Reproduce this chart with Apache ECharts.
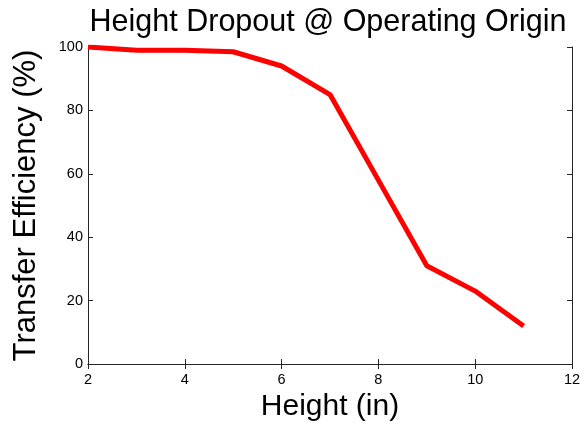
<!DOCTYPE html>
<html>
<head>
<meta charset="utf-8">
<script src="https://cdn.jsdelivr.net/npm/echarts@6/dist/echarts.min.js"></script>
<style>
  html, body { margin: 0; padding: 0; background: #fff; }
  #chart { width: 583px; height: 423px; }
</style>
</head>
<body>
<div id="chart"></div>
<script>
// heights (in) and transfer efficiency (%)
var heights = [2, 3, 4, 5, 6, 7, 8, 9, 10, 11]
var efficiency = [100, 99, 99, 98.5, 94, 85, 58, 31, 23, 12]
var xTicks = [2, 4, 6, 8, 10, 12]
var yTicks = [0, 20, 40, 60, 80, 100]

var font = 'Liberation Sans, Arial, sans-serif'
var axisColor = '#262626'

var chart = echarts.init(document.getElementById('chart'))

var points = heights.map(function (h, i) {
  return [h, efficiency[i]]
})

// shared look for the box axes (ticks pointing inward)
function boxAxis(extra) {
  return Object.assign({
    type: 'value',
    axisLine: { show: true, lineStyle: { color: axisColor, width: 1 } },
    axisTick: { show: true, inside: true, length: 5, lineStyle: { color: axisColor } },
    splitLine: { show: false }
  }, extra)
}

chart.setOption({
  animation: false,
  title: {
    text: 'Height Dropout @ Operating Origin',
    left: 323,
    textAlign: 'center',
    top: 2,
    textStyle: { fontFamily: font, fontSize: 30.5, fontWeight: 'normal', color: '#000' }
  },
  grid: {
    left: 88,
    right: 11,
    top: 47,
    bottom: 59,
    // keep the box where it is, names may sit near the edge
    outerBoundsMode: 'none'
  },
  xAxis: [
    boxAxis({
      position: 'bottom',
      min: xTicks[0],
      max: xTicks[xTicks.length - 1],
      interval: 2,
      name: 'Height (in)',
      nameLocation: 'middle',
      nameGap: 27,
      nameTextStyle: { fontFamily: font, fontSize: 30, color: '#000' },
      axisLabel: { fontFamily: font, fontSize: 14.5, color: '#000', margin: 8 }
    }),
    boxAxis({
      position: 'top',
      min: xTicks[0],
      max: xTicks[xTicks.length - 1],
      interval: 2,
      axisLabel: { show: false }
    })
  ],
  yAxis: [
    boxAxis({
      position: 'left',
      min: yTicks[0],
      max: yTicks[yTicks.length - 1],
      interval: 20,
      name: 'Transfer Efficiency (%)',
      nameLocation: 'middle',
      nameGap: 46,
      nameTextStyle: { fontFamily: font, fontSize: 31, color: '#000' },
      axisLabel: { fontFamily: font, fontSize: 14.5, color: '#000', margin: 5 }
    }),
    boxAxis({
      position: 'right',
      min: yTicks[0],
      max: yTicks[yTicks.length - 1],
      interval: 20,
      axisLabel: { show: false }
    })
  ],
  series: [{
    type: 'line',
    data: points,
    showSymbol: false,
    lineStyle: { color: '#ff0000', width: 5 },
    itemStyle: { color: '#ff0000' }
  }]
})
</script>
</body>
</html>
